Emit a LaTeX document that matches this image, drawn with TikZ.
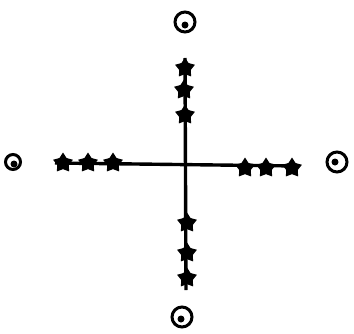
\documentclass[tikz,border=0pt]{standalone}
\usetikzlibrary{shapes.geometric}
\begin{document}
\begin{tikzpicture}[x=1pt,y=-1pt,
  starmark/.style={star,star points=5,star point ratio=1.7,fill=black,draw=black,line width=1pt,inner sep=0pt,minimum size=19pt},
  ring/.style={circle,draw=black,line width=3pt,inner sep=0pt,minimum size=20pt},
  dotmark/.style={circle,fill=black,inner sep=0pt,minimum size=7pt},
  axis/.style={line width=3.4pt,black}]
\useasboundingbox (0,0) rectangle (354,333);
% axis ends
\coordinate (top) at (185,58);
\coordinate (bot) at (186,290);
\coordinate (lft) at (55,163);
\coordinate (rgt) at (298,166);
\draw[axis] (top) -- (bot);
\draw[axis] (lft) -- (rgt);
% stars top
\node[starmark] (t1) at (185,68) {};
\node[starmark] (t2) at (184,90) {};
\node[starmark] (t3) at (185,115) {};
% stars left
\node[starmark] (l1) at (63,163) {};
\node[starmark] (l2) at (88,163) {};
\node[starmark] (l3) at (113,163) {};
% stars right
\node[starmark] (r1) at (245,168) {};
\node[starmark] (r2) at (266,168) {};
\node[starmark] (r3) at (292,168) {};
% stars bottom
\node[starmark] (b1) at (187,223) {};
\node[starmark] (b2) at (187,253) {};
\node[starmark] (b3) at (187,278) {};
% rings
\node[ring] (ct) at (185,22) {};
\node[dotmark] (dt) at (185,25) {};
\node[ring,minimum size=15pt] (cl) at (13,162) {};
\node[dotmark] (dl) at (14,164) {};
\node[ring] (cr) at (337,162) {};
\node[dotmark] (dr) at (335,162) {};
\node[ring] (cb) at (182,317) {};
\node[dotmark] (db) at (181,319) {};
\end{tikzpicture}
\end{document}
